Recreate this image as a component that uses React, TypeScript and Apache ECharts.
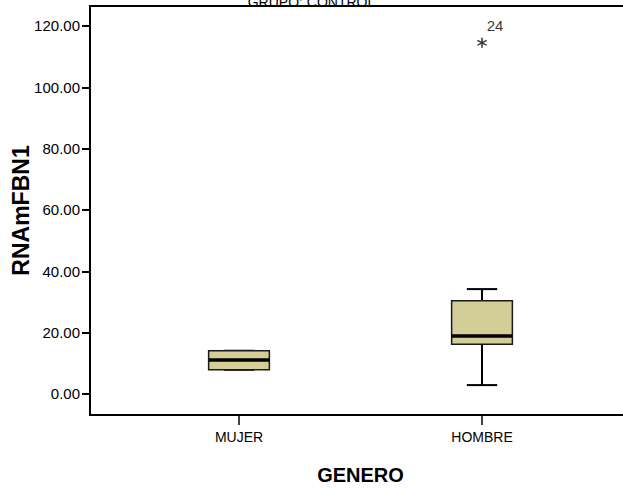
import React, { useEffect, useRef } from "react";
import * as echarts from "echarts";

const TITLE = "GRUPO: CONTROL";
const Y_NAME = "RNAmFBN1";
const X_NAME = "GENERO";
const categories = ["MUJER", "HOMBRE"];
// [min, Q1, median, Q3, max]
const mujerBox = [7.9, 7.9, 11.1, 14.1, 14.1];
const hombreBox = [2.9, 16.2, 18.9, 30.4, 34.2];
const boxes = [mujerBox, hombreBox];
const outlierCategory = [1];
const outlierValue = [114.5];
const outlierId = ["24"];
const yTicks = [0, 20, 40, 60, 80, 100, 120];
const Y_MIN = -6.85;
const Y_MAX = 126.5;

const FONT = "'Liberation Sans', Arial, sans-serif";
const BOX_FILL = "#d3ce97";

const STAR =
  "path://M43 0 L57 0 L57 100 L43 100 Z M3 31.6 L10 19.5 L97 68.4 L90 80.5 Z M10 80.5 L3 68.4 L90 19.5 L97 31.6 Z";

export default function App() {
  const ref = useRef<HTMLDivElement>(null);
  useEffect(() => {
    if (!ref.current) return;
    const chart = echarts.init(ref.current, null, { renderer: "svg" });
    const boxData = boxes.map((b, i) => [i, ...b]);
    const option: any = {
      animation: false,
      backgroundColor: "#fff",
      title: {
        text: TITLE,
        left: "center",
        top: -10,
        textStyle: { fontFamily: FONT, fontSize: 14, fontWeight: "normal", color: "#000" },
      },
      grid: [
        {
          left: 90, right: -10, top: 6, bottom: 76,
          show: true, borderColor: "#000", borderWidth: 2, backgroundColor: "transparent",
          containLabel: false, outerBoundsMode: "none",
        },
        { left: 117.5, width: 486, top: 6, bottom: 76, containLabel: false, outerBoundsMode: "none" },
      ],
      xAxis: [
        { gridIndex: 0, type: "value", show: false, min: 0, max: 1 },
        {
          gridIndex: 1,
          type: "category",
          data: categories,
          boundaryGap: true,
          axisLine: { show: false, onZero: false },
          axisTick: { show: true, alignWithLabel: true, length: 10, lineStyle: { color: "#000", width: 1.5 } },
          axisLabel: { color: "#000", fontFamily: FONT, fontSize: 14, margin: 15 },
          name: X_NAME,
          nameLocation: "middle",
          nameGap: 50,
          nameMoveOverlap: false,
          nameTextStyle: { color: "#000", fontFamily: FONT, fontSize: 20, fontWeight: "bold" },
        },
      ],
      yAxis: [
        {
          gridIndex: 0,
          type: "value",
          min: Y_MIN,
          max: Y_MAX,
          splitLine: { show: false },
          axisLine: { show: true, lineStyle: { color: "#000", width: 2 } },
          axisTick: { show: true, length: 8, customValues: yTicks, lineStyle: { color: "#000", width: 2 } },
          axisLabel: {
            customValues: yTicks,
            color: "#000",
            fontFamily: FONT,
            fontSize: 15,
            margin: 10,
            padding: [6, 0, 0, 0],
            formatter: (v: number) => v.toFixed(2),
          },
          name: Y_NAME,
          nameLocation: "middle",
          nameGap: 58,
          nameMoveOverlap: false,
          nameTextStyle: { color: "#000", fontFamily: FONT, fontSize: 23, fontWeight: "bold" },
        },
        { gridIndex: 1, type: "value", min: Y_MIN, max: Y_MAX, show: false },
      ],
      series: [
        {
          type: "custom",
          xAxisIndex: 1,
          yAxisIndex: 1,
          data: boxData,
          encode: { x: 0, y: [1, 2, 3, 4, 5] },
          renderItem: (params: any, api: any) => {
            const x = api.value(0);
            const lo = api.coord([x, api.value(1)]);
            const q1 = api.coord([x, api.value(2)]);
            const med = api.coord([x, api.value(3)]);
            const q3 = api.coord([x, api.value(4)]);
            const hi = api.coord([x, api.value(5)]);
            const band = api.size([1, 0])[0];
            const bw = band * 0.25;
            const cw = bw / 2;
            const cx = lo[0];
            const line = (x1: number, y1: number, x2: number, y2: number, w: number) => ({
              type: "line",
              shape: { x1, y1, x2, y2 },
              style: { stroke: "#000", lineWidth: w },
            });
            return {
              type: "group",
              children: [
                line(cx, lo[1], cx, q1[1], 2),
                line(cx, q3[1], cx, hi[1], 2),
                line(cx - cw / 2, lo[1], cx + cw / 2, lo[1], 2),
                line(cx - cw / 2, hi[1], cx + cw / 2, hi[1], 2),
                {
                  type: "rect",
                  shape: { x: cx - bw / 2, y: q3[1], width: bw, height: q1[1] - q3[1] },
                  style: { fill: BOX_FILL, stroke: "#1a1a1a", lineWidth: 1.5 },
                },
                line(cx - bw / 2, med[1], cx + bw / 2, med[1], 3.5),
              ],
            };
          },
        },
        {
          type: "scatter",
          xAxisIndex: 1,
          yAxisIndex: 1,
          symbol: STAR,
          symbolSize: 10,
          itemStyle: { color: "#000" },
          data: outlierValue.map((v, i) => ({
            value: [outlierCategory[i], v],
            label: {
              show: true,
              formatter: outlierId[i],
              position: "top",
              distance: 5,
              offset: [13, 0],
              color: "#000",
              fontFamily: FONT,
              fontSize: 15,
            },
          })),
        },
      ],
    };
    chart.setOption(option);
    return () => chart.dispose();
  }, []);
  return (
    <div
      ref={ref}
      style={{ position: "fixed", left: 0, top: 0, width: 623, height: 491, background: "#fff" }}
    />
  );
}
